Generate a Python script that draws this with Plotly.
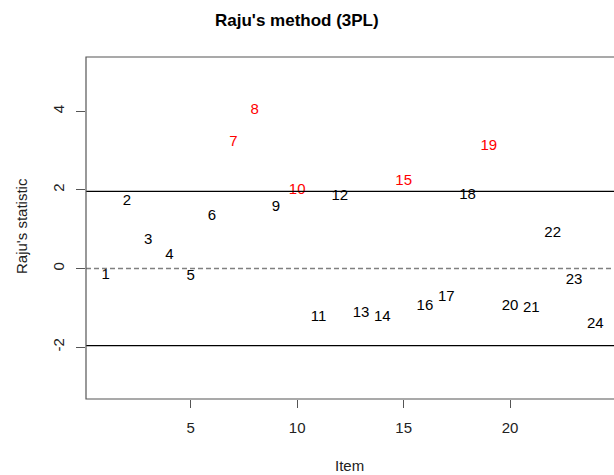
import plotly.graph_objects as go

# Raju's statistic per item (3PL model)
items = list(range(1, 25))
raju = [-0.17, 1.72, 0.71, 0.34, -0.19, 1.32, 3.21, 4.03, 1.57, 1.98,
        -1.23, 1.84, -1.14, -1.23, 2.23, -0.97, -0.72, 1.87, 3.12, -0.95,
        -1.01, 0.90, -0.30, -1.41]
threshold = 1.96
x_ticks = [5, 10, 15, 20]
y_ticks = [-2, 0, 2, 4]
y_tick_labels = ["-2", "0", "2", "4"]

font_family = "Liberation Sans, Arial, sans-serif"
colors = ["#FF0000" if abs(v) > threshold else "#000000" for v in raju]

fig = go.Figure()
fig.add_trace(go.Scatter(
    x=items, y=raju, mode="text",
    text=[str(i) for i in items],
    textposition="middle center",
    textfont=dict(family=font_family, size=15, color=colors),
    showlegend=False, hoverinfo="skip",
))

shapes = [
    # detection thresholds
    dict(type="line", xref="paper", yref="y", x0=0, x1=1.01, y0=threshold, y1=threshold,
         line=dict(color="black", width=1.2)),
    dict(type="line", xref="paper", yref="y", x0=0, x1=1.01, y0=-threshold, y1=-threshold,
         line=dict(color="black", width=1.2)),
    # zero reference
    dict(type="line", xref="paper", yref="y", x0=0, x1=1.01, y0=0, y1=0,
         line=dict(color="#808080", width=1.3, dash="5px,3px")),
    # plot box
    dict(type="rect", xref="paper", yref="paper", x0=0, x1=1.01, y0=0, y1=1,
         line=dict(color="#555555", width=1.2), fillcolor="rgba(0,0,0,0)"),
]

fig.update_layout(
    width=614, height=475,
    margin=dict(l=86, r=0, t=57, b=76, autoexpand=False),
    paper_bgcolor="white", plot_bgcolor="white",
    font=dict(family=font_family, size=15, color="black"),
    shapes=shapes,
    annotations=[
        dict(text="<b>Raju's method (3PL)</b>", xref="paper", yref="paper",
             x=(297 - 86) / 528, y=1 + (57 - 20) / 342, showarrow=False,
             xanchor="center", yanchor="middle",
             font=dict(family=font_family, size=17, color="black")),
        dict(text="Item", xref="paper", yref="paper",
             x=(349 - 86) / 528, y=-(465 - 399) / 342, showarrow=False,
             xanchor="center", yanchor="middle",
             font=dict(family=font_family, size=15, color="#222222")),
        dict(text="Raju's statistic", xref="paper", yref="paper",
             x=-(86 - 22) / 528, y=(399 - 226) / 342, showarrow=False,
             textangle=-90, xanchor="center", yanchor="middle",
             font=dict(family=font_family, size=15, color="#222222")),
    ],
    xaxis=dict(range=[0.08, 24.88], tickvals=x_ticks, ticks="outside", ticklen=8,
               tickcolor="#555555", tickwidth=1.2, showgrid=False, zeroline=False,
               showline=False, tickfont=dict(size=15, color="#222222"),
               ticklabelstandoff=7, fixedrange=True),
    yaxis=dict(range=[-3.32, 5.38], tickvals=y_ticks, ticktext=y_tick_labels,
               ticks="outside", ticklen=9,
               tickcolor="#555555", tickwidth=1.2, showgrid=False, zeroline=False,
               showline=False, tickangle=-90, tickfont=dict(size=15, color="#222222"),
               ticklabelstandoff=6, fixedrange=True),
)

fig.write_html("out.html")
